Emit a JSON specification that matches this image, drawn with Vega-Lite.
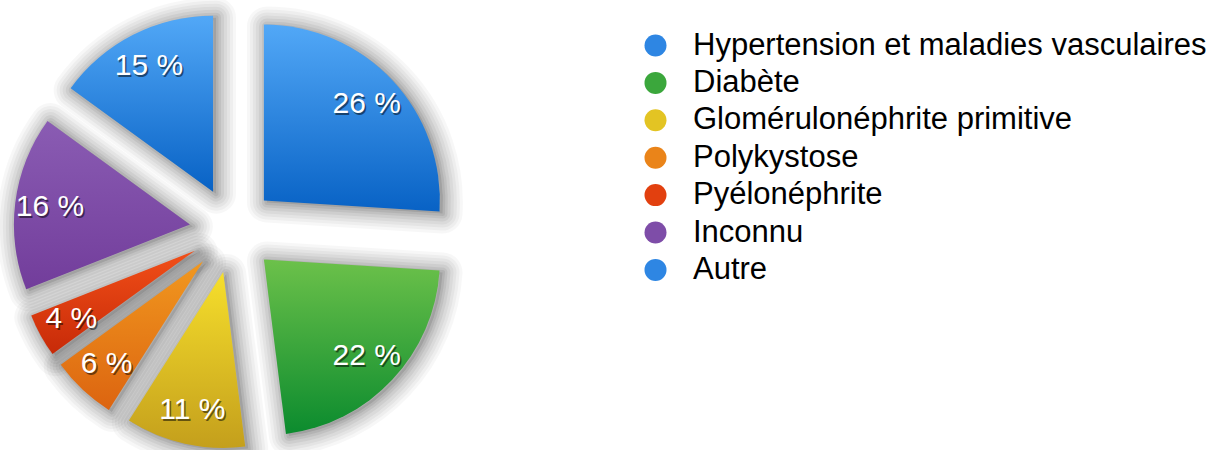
{
  "$schema": "https://vega.github.io/schema/vega-lite/v6.json",
  "width": 1224,
  "height": 450,
  "autosize": "none",
  "padding": 0,
  "background": "white",
  "data": {
    "values": [
      {"cat": "Hypertension et maladies vasculaires", "value": 26, "ord": 1, "label": "26 %"},
      {"cat": "Diabète", "value": 22, "ord": 2, "label": "22 %"},
      {"cat": "Glomérulonéphrite primitive", "value": 11, "ord": 3, "label": "11 %"},
      {"cat": "Polykystose", "value": 6, "ord": 4, "label": "6 %"},
      {"cat": "Pyélonéphrite", "value": 4, "ord": 5, "label": "4 %"},
      {"cat": "Inconnu", "value": 16, "ord": 6, "label": "16 %"},
      {"cat": "Autre", "value": 15, "ord": 7, "label": "15 %"}
    ]
  },
  "encoding": {
    "theta": {"field": "value", "type": "quantitative", "stack": true},
    "order": {"field": "ord", "type": "quantitative"}
  },
  "layer": [
    {
      "mark": {"type": "arc", "outerRadius": 176, "x": {"expr": "width*0.19 + 3 + 43*sin(PI*(datum.value_start+datum.value_end)/100)"}, "y": {"expr": "height*0.511 + 2 - 43*cos(PI*(datum.value_start+datum.value_end)/100)"}, "fill": "#000", "fillOpacity": 0.1, "stroke": "#000", "strokeOpacity": 0.03, "strokeWidth": 40, "strokeJoin": "round"}
    },
    {
      "mark": {"type": "arc", "outerRadius": 176, "x": {"expr": "width*0.19 + 3 + 43*sin(PI*(datum.value_start+datum.value_end)/100)"}, "y": {"expr": "height*0.511 + 2 - 43*cos(PI*(datum.value_start+datum.value_end)/100)"}, "fillOpacity": 0, "stroke": "#000", "strokeOpacity": 0.035, "strokeWidth": 34, "strokeJoin": "round"}
    },
    {
      "mark": {"type": "arc", "outerRadius": 176, "x": {"expr": "width*0.19 + 3 + 43*sin(PI*(datum.value_start+datum.value_end)/100)"}, "y": {"expr": "height*0.511 + 2 - 43*cos(PI*(datum.value_start+datum.value_end)/100)"}, "fillOpacity": 0, "stroke": "#000", "strokeOpacity": 0.04, "strokeWidth": 28, "strokeJoin": "round"}
    },
    {
      "mark": {"type": "arc", "outerRadius": 176, "x": {"expr": "width*0.19 + 3 + 43*sin(PI*(datum.value_start+datum.value_end)/100)"}, "y": {"expr": "height*0.511 + 2 - 43*cos(PI*(datum.value_start+datum.value_end)/100)"}, "fillOpacity": 0, "stroke": "#000", "strokeOpacity": 0.045, "strokeWidth": 22, "strokeJoin": "round"}
    },
    {
      "mark": {"type": "arc", "outerRadius": 176, "x": {"expr": "width*0.19 + 3 + 43*sin(PI*(datum.value_start+datum.value_end)/100)"}, "y": {"expr": "height*0.511 + 2 - 43*cos(PI*(datum.value_start+datum.value_end)/100)"}, "fillOpacity": 0, "stroke": "#000", "strokeOpacity": 0.05, "strokeWidth": 16, "strokeJoin": "round"}
    },
    {
      "mark": {"type": "arc", "outerRadius": 176, "x": {"expr": "width*0.19 + 3 + 43*sin(PI*(datum.value_start+datum.value_end)/100)"}, "y": {"expr": "height*0.511 + 2 - 43*cos(PI*(datum.value_start+datum.value_end)/100)"}, "fillOpacity": 0, "stroke": "#000", "strokeOpacity": 0.06, "strokeWidth": 10, "strokeJoin": "round"}
    },
    {
      "mark": {"type": "arc", "outerRadius": 176, "x": {"expr": "width*0.19 + 3 + 43*sin(PI*(datum.value_start+datum.value_end)/100)"}, "y": {"expr": "height*0.511 + 2 - 43*cos(PI*(datum.value_start+datum.value_end)/100)"}, "fillOpacity": 0, "stroke": "#000", "strokeOpacity": 0.07, "strokeWidth": 5, "strokeJoin": "round"}
    },
    {
      "mark": {"type": "arc", "outerRadius": 176, "x": {"expr": "width*0.19 + 43*sin(PI*(datum.value_start+datum.value_end)/100)"}, "y": {"expr": "height*0.511 - 43*cos(PI*(datum.value_start+datum.value_end)/100)"}},
      "encoding": {
        "fill": {
          "field": "cat",
          "type": "nominal",
          "sort": null,
          "scale": {
            "domain": ["Hypertension et maladies vasculaires", "Diabète", "Glomérulonéphrite primitive", "Polykystose", "Pyélonéphrite", "Inconnu", "Autre"],
            "range": ["#2e86e3", "#3ba73c", "#e3c423", "#ea8419", "#e2400f", "#7e4da8", "#2e86e3"]
          },
          "legend": {
            "orient": "none",
            "legendX": 640,
            "legendY": 30,
            "title": null,
            "symbolType": "circle",
            "symbolSize": 484,
            "symbolStrokeWidth": 0,
            "labelFont": "Liberation Sans",
            "labelFontSize": 31,
            "labelColor": "#000",
            "labelOffset": 22,
            "rowPadding": 5.4,
            "padding": 0,
            "labelLimit": 800
          },
          "condition": [
            {"test": "datum.cat === 'Hypertension et maladies vasculaires' || datum.cat === 'Autre'", "value": {"gradient": "linear", "x1": 0, "y1": 0, "x2": 0, "y2": 1, "stops": [{"offset": 0, "color": "#52a8f7"}, {"offset": 1, "color": "#0862c5"}]}},
            {"test": "datum.cat === 'Diabète'", "value": {"gradient": "linear", "x1": 0, "y1": 0, "x2": 0, "y2": 1, "stops": [{"offset": 0, "color": "#6cc14a"}, {"offset": 1, "color": "#0b8b2e"}]}},
            {"test": "datum.cat === 'Glomérulonéphrite primitive'", "value": {"gradient": "linear", "x1": 0, "y1": 0, "x2": 0, "y2": 1, "stops": [{"offset": 0, "color": "#f6df2c"}, {"offset": 1, "color": "#c49f1c"}]}},
            {"test": "datum.cat === 'Polykystose'", "value": {"gradient": "linear", "x1": 0, "y1": 0, "x2": 0, "y2": 1, "stops": [{"offset": 0, "color": "#f1981f"}, {"offset": 1, "color": "#dc6410"}]}},
            {"test": "datum.cat === 'Pyélonéphrite'", "value": {"gradient": "linear", "x1": 0, "y1": 0, "x2": 0, "y2": 1, "stops": [{"offset": 0, "color": "#f24f18"}, {"offset": 1, "color": "#c72a08"}]}},
            {"test": "datum.cat === 'Inconnu'", "value": {"gradient": "linear", "x1": 0, "y1": 0, "x2": 0, "y2": 1, "stops": [{"offset": 0, "color": "#8a5cb3"}, {"offset": 1, "color": "#723d9b"}]}}
          ]
        }
      }
    },
    {
      "mark": {"type": "text", "radius": 184, "x": {"expr": "width*0.19"}, "y": {"expr": "height*0.511"}, "font": "Liberation Sans", "fontSize": 30, "fill": "#000", "opacity": 0.5, "dx": 1.5, "dy": 2, "align": "center", "baseline": "middle"},
      "encoding": {"text": {"field": "label"}}
    },
    {
      "mark": {"type": "text", "radius": 184, "x": {"expr": "width*0.19"}, "y": {"expr": "height*0.511"}, "font": "Liberation Sans", "fontSize": 30, "fill": "#ffffff", "align": "center", "baseline": "middle"},
      "encoding": {"text": {"field": "label"}}
    }
  ]
}
